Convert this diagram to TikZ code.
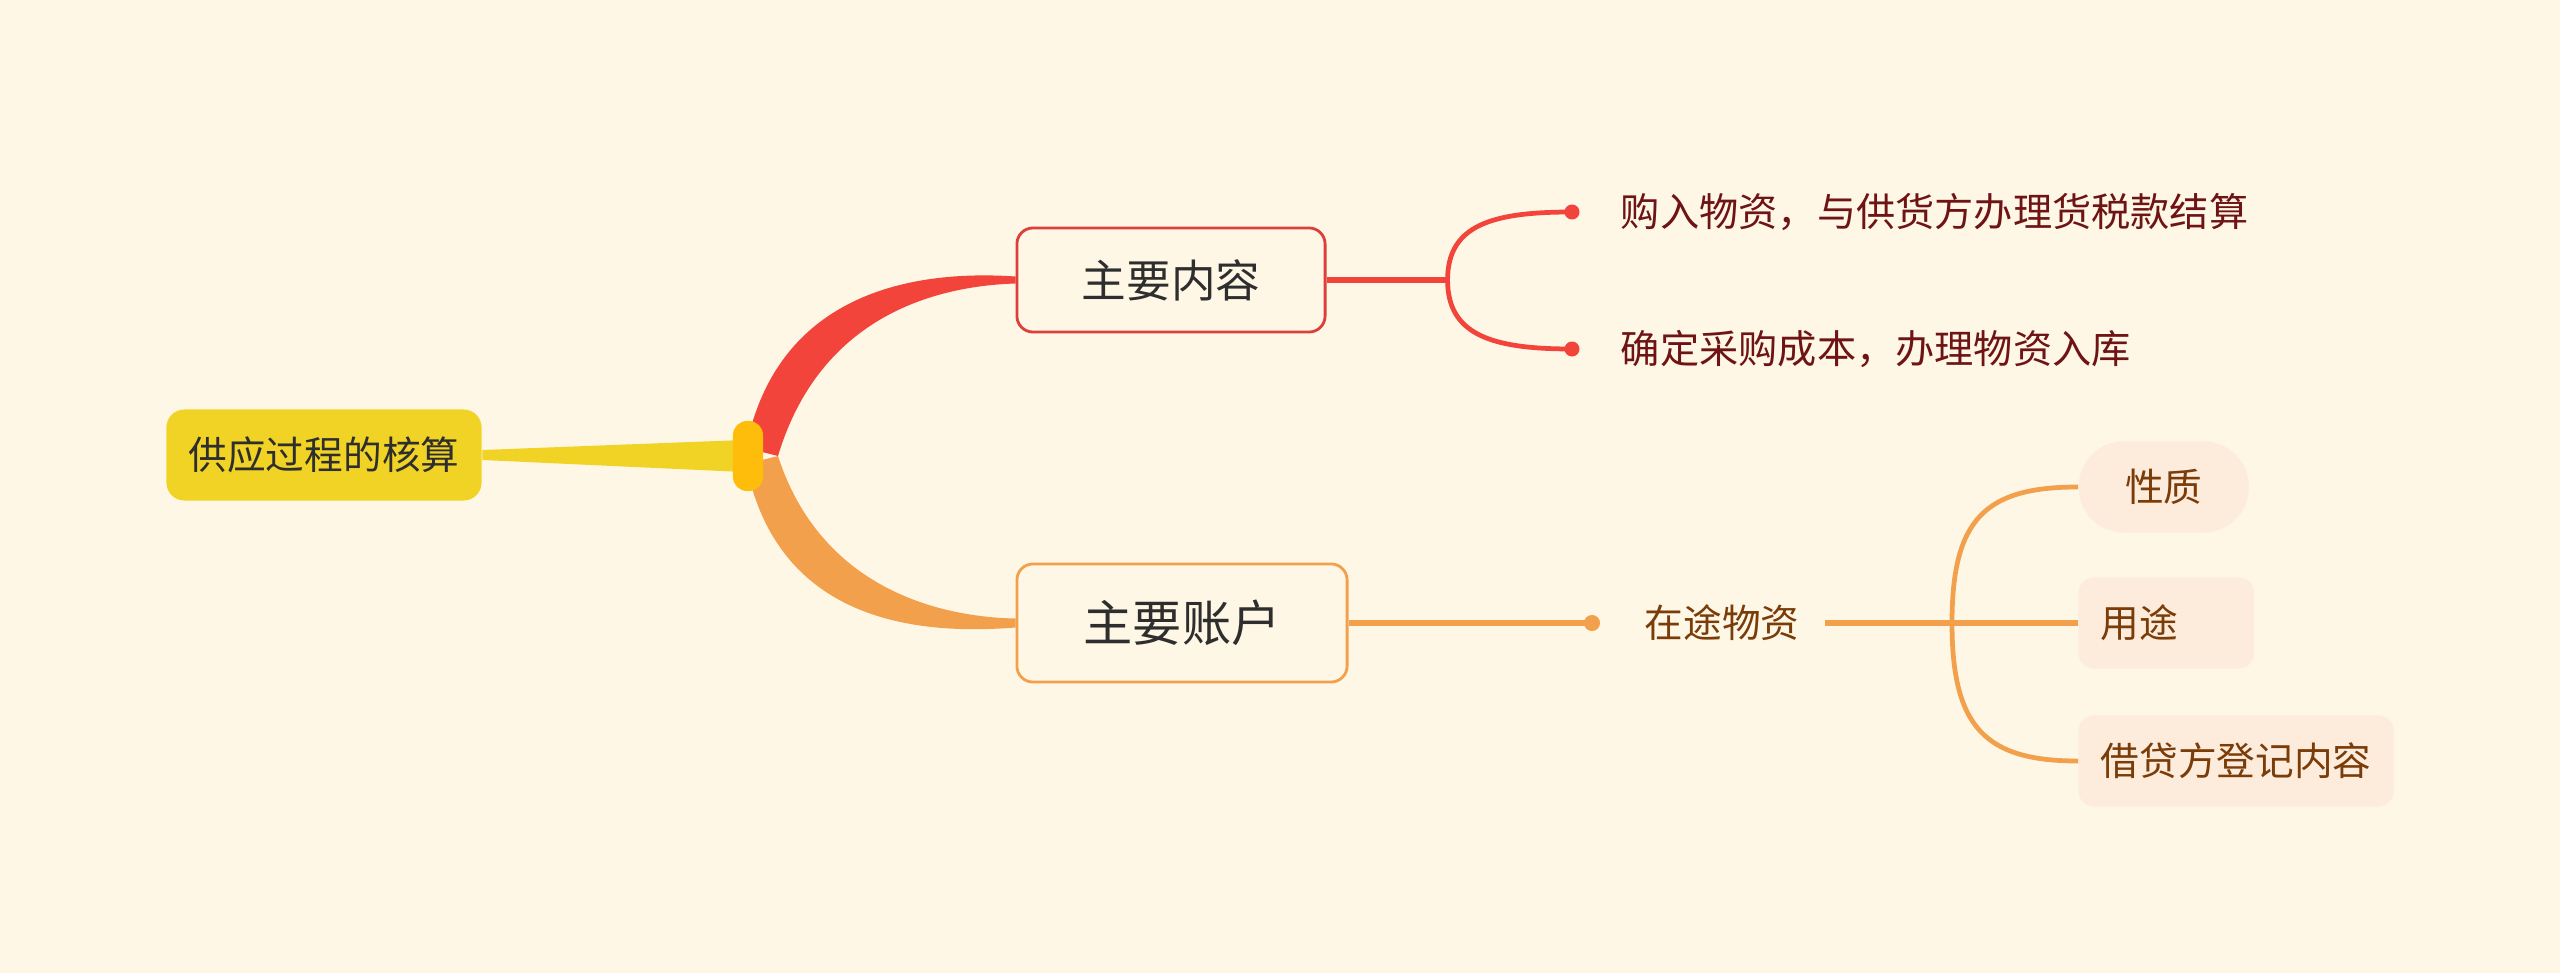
\documentclass[tikz,border=0pt]{standalone}
\usepackage{fontspec}
\setmainfont{Noto Sans CJK SC}
\usepackage{tikz}
\usetikzlibrary{positioning, calc}
\definecolor{fond}{HTML}{FEF7E6}
\definecolor{racine}{HTML}{F1D326}
\definecolor{noeud}{HTML}{FDBD0A}
\definecolor{rouge}{HTML}{F2443B}
\definecolor{rougebord}{HTML}{DD3F3A}
\definecolor{orangeb}{HTML}{F2A04C}
\definecolor{encre}{HTML}{2E2E2E}
\definecolor{bordeaux}{HTML}{6E1414}
\definecolor{brun}{HTML}{7A3C08}
\definecolor{peche}{HTML}{FDEBDC}
\tikzset{
  rootbox/.style ={fill=racine, rounded corners=0.18cm, minimum width=3.15cm,
                   minimum height=0.91cm, inner sep=0pt, text=encre,
                   font=\fontsize{11pt}{13pt}\selectfont},
  knot/.style    ={fill=noeud, rounded corners=0.14cm, minimum width=0.3cm,
                   minimum height=0.7cm, inner sep=0pt},
  topic/.style   ={draw, line width=0.8pt, fill=fond, rounded corners=0.16cm,
                   inner sep=0pt, text=encre},
  topicr/.style  ={topic, draw=rougebord, minimum width=3.08cm, minimum height=1.04cm,
                   font=\fontsize{12.7pt}{15pt}\selectfont},
  topico/.style  ={topic, draw=orangeb, minimum width=3.3cm, minimum height=1.18cm,
                   font=\fontsize{14pt}{17pt}\selectfont},
  dotr/.style    ={circle, fill=rouge, minimum size=0.15cm, inner sep=0pt},
  doto/.style    ={circle, fill=orangeb, minimum size=0.16cm, inner sep=0pt},
  leafr/.style   ={anchor=west, inner sep=0pt, text=bordeaux,
                   font=\fontsize{11.15pt}{13pt}\selectfont},
  leafo/.style   ={inner xsep=0.25cm, inner ysep=0pt, text=brun,
                   font=\fontsize{11pt}{13pt}\selectfont},
  childbox/.style={anchor=west, fill=peche, rounded corners=0.15cm, inner xsep=0.22cm,
                   minimum height=0.91cm, align=left, text=brun,
                   font=\fontsize{11pt}{13pt}\selectfont},
  pill/.style    ={childbox, rounded corners=0.45cm, minimum width=1.7cm, align=center},
  linkr/.style   ={draw=rouge, line width=1.8pt},
  curver/.style  ={draw=rouge, line width=1.35pt},
  linko/.style   ={draw=orangeb, line width=1.8pt},
  curveo/.style  ={draw=orangeb, line width=1.35pt}
}
\begin{document}
\begin{tikzpicture}[x=0.01cm, y=-0.01cm]

  \fill[fond] (0,0) rectangle (2560,973);

  % Racine
  \node[rootbox] (root) at (324,455) {供应过程的核算};
  \coordinate (hub) at (748,456);

  % Branches principales
  \node[topicr] (content) at (1171,280) {主要内容};
  \node[topico] (account) at (1182,623) {主要账户};

  \fill[racine] (root.east) ++(0,-5) -- ($(hub)+(-5,-16)$) -- ($(hub)+(-5,16)$)
    -- ($(root.east)+(0,5)$) -- cycle;
  \fill[rouge] ($(hub)+(-2,-8)$) .. controls ($(hub)+(30,-168)$) and ($(content.west)+(-95,-10)$)
    .. ($(content.west)+(0,-3.5)$) -- ($(content.west)+(0,3.5)$)
    .. controls ($(content.west)+(-80,6)$) and ($(hub)+(72,-140)$) .. ($(hub)+(30,0)$) -- cycle;
  \fill[orangeb] ($(hub)+(-2,8)$) .. controls ($(hub)+(30,168)$) and ($(account.west)+(-95,12)$)
    .. ($(account.west)+(0,4.5)$) -- ($(account.west)+(0,-4.5)$)
    .. controls ($(account.west)+(-80,-6)$) and ($(hub)+(72,130)$) .. ($(hub)+(30,0)$) -- cycle;
  \node[knot] (knot) at (hub) {};

  % Sous-branche rouge
  \coordinate[right=1.21cm of content.east] (forkr);
  \node[dotr] (dr1) at (1572,212) {};
  \node[dotr] (dr2) at (1572,349) {};
  \node[leafr, right=0.4cm of dr1] (buy) {购入物资，与供货方办理货税款结算};
  \node[leafr, right=0.4cm of dr2] (cost) {确定采购成本，办理物资入库};
  \draw[linkr] (content.east) -- (forkr);
  \draw[curver] (forkr) .. controls +(0,-55) and +(-80,0) .. (dr1.center);
  \draw[curver] (forkr) .. controls +(0,55) and +(-80,0) .. (dr2.center);

  % Sous-branche orange
  \node[doto] (dt) at (1592,623) {};
  \node[leafo] (transit) at (1722,623) {在途物资};
  \coordinate (forko) at (1952,623);
  \node[pill] (nature) at (2078,487) {性质};
  \node[childbox, text width=1.31cm] (usage) at (2078,623) {用途};
  \node[childbox] (entry) at (2078,761) {借贷方登记内容};
  \draw[linko] (account.east) -- (dt.center);
  \draw[linko] (transit.east) -- (usage.west);
  \draw[curveo] (forko) .. controls +(0,-104) and +(-93,0) .. (nature.west);
  \draw[curveo] (forko) .. controls +(0,104) and +(-93,0) .. (entry.west);
\end{tikzpicture}
\end{document}
